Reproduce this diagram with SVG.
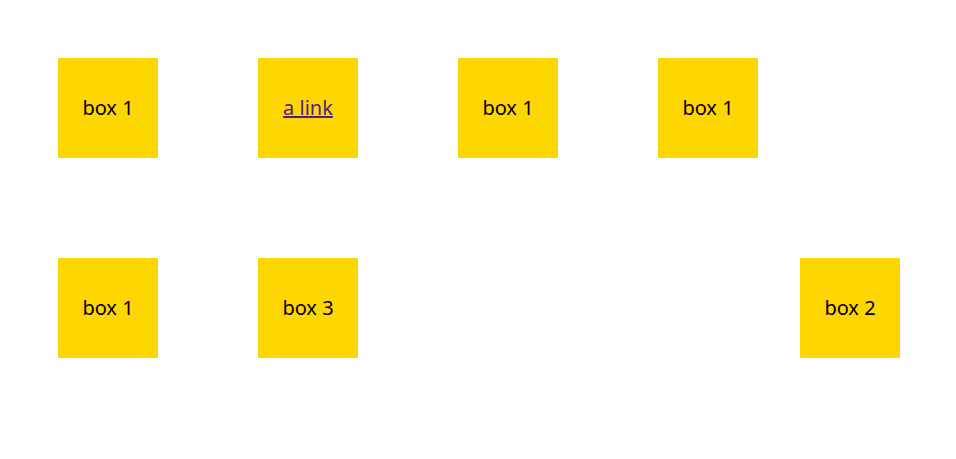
<svg xmlns="http://www.w3.org/2000/svg" width="956" height="459" viewBox="0 0 956 459">
<style>
.box{fill:#FFD700}
.t{font-family:"Noto Sans","Open Sans","Liberation Sans",sans-serif;font-size:20px;fill:#000;text-anchor:middle}
.link{fill:#551A8B;text-decoration:underline}
</style>
<rect width="956" height="459" fill="#fff"/>
<g id="n1"><rect class="box" x="58" y="58" width="100" height="100"/><text class="t" x="108" y="115">box 1</text></g>
<g id="n2"><rect class="box" x="258" y="58" width="100" height="100"/><text class="t link" x="308" y="115">a link</text></g>
<g id="n3"><rect class="box" x="458" y="58" width="100" height="100"/><text class="t" x="508" y="115">box 1</text></g>
<g id="n4"><rect class="box" x="658" y="58" width="100" height="100"/><text class="t" x="708" y="115">box 1</text></g>
<g id="n5"><rect class="box" x="58" y="258" width="100" height="100"/><text class="t" x="108" y="315">box 1</text></g>
<g id="n6"><rect class="box" x="258" y="258" width="100" height="100"/><text class="t" x="308" y="315">box 3</text></g>
<g id="n7"><rect class="box" x="800" y="258" width="100" height="100"/><text class="t" x="850" y="315">box 2</text></g>
<g id="connectors"></g>
</svg>
